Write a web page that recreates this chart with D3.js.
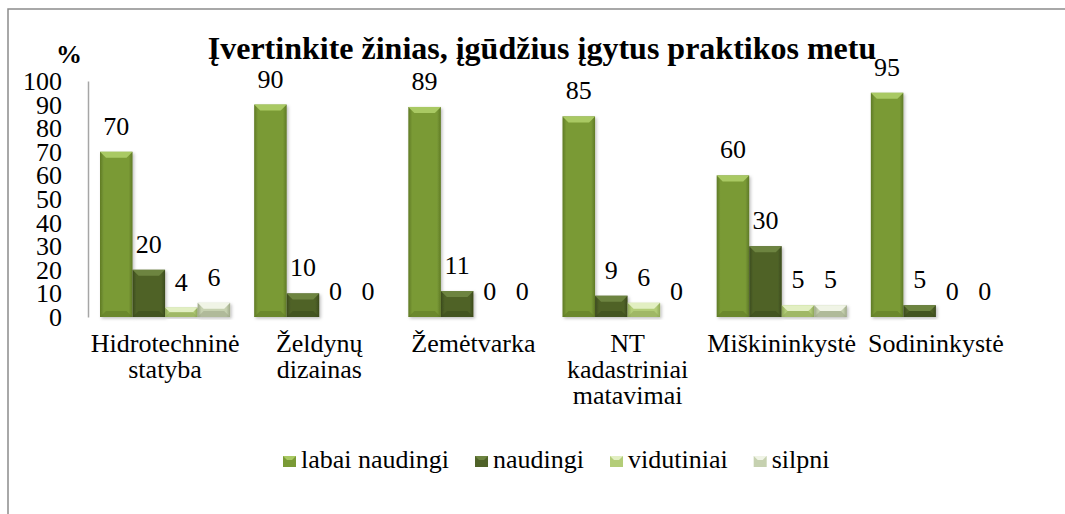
<!DOCTYPE html>
<html lang="lt">
<head>
<meta charset="utf-8">
<script src="https://cdn.jsdelivr.net/npm/d3@7"></script>
<style>
  body { margin:0; padding:0; background:#fff; }
  svg text { font-family: "Liberation Serif", "Times New Roman", serif; fill:#000; }
</style>
</head>
<body>
<svg id="chart" width="1065" height="514"></svg>
<script>
// data
var categories = [["Hidrotechninė","statyba"], ["Želdynų","dizainas"], ["Žemėtvarka"],
                  ["NT","kadastriniai","matavimai"], ["Miškininkystė"], ["Sodininkystė"]];
var seriesNames = ["labai naudingi", "naudingi", "vidutiniai", "silpni"];
var labaiNaudingi = [70, 90, 89, 85, 60, 95];
var naudingi      = [20, 10, 11, 9, 30, 5];
var vidutiniai    = [4, 0, 0, 6, 5, 0];
var silpni        = [6, 0, 0, 0, 5, 0];
var yTicks = [0,10,20,30,40,50,60,70,80,90,100];
var title = "Įvertinkite žinias, įgūdžius įgytus praktikos metu";

// colours: body, top bevel, dark edge
var colors = [
  {body:"#7a9a36", top:"#a9c963", edge:"#5f7a26"},
  {body:"#4f6228", top:"#6d8440", edge:"#3b4a1c"},
  {body:"#b3cd78", top:"#e2efc2", edge:"#8fa858"},
  {body:"#c6d1b0", top:"#f0f4e6", edge:"#9ea888"}
];

var values = [labaiNaudingi, naudingi, vidutiniai, silpni];
var svg = d3.select("#chart");
var defs = svg.append("defs");

colors.forEach(function(c,i){
  var g = defs.append("linearGradient").attr("id","grad"+i)
    .attr("x1","0").attr("x2","1").attr("y1","0").attr("y2","0");
  g.append("stop").attr("offset","0").attr("stop-color",c.edge);
  g.append("stop").attr("offset","0.12").attr("stop-color",c.body);
  g.append("stop").attr("offset","0.88").attr("stop-color",c.body);
  g.append("stop").attr("offset","1").attr("stop-color",c.edge);
});
var sh = defs.append("filter").attr("id","shadow").attr("x","-20%").attr("y","-10%").attr("width","150%").attr("height","130%");
sh.append("feDropShadow").attr("dx",1.5).attr("dy",1.5).attr("stdDeviation",1.5).attr("flood-color","#000").attr("flood-opacity",0.25);

// frame
svg.append("path").attr("d","M8,514 L8,9 L1065,9")
  .attr("fill","none").attr("stroke","#8c8c8c").attr("stroke-width",1.5);

var catKeys = categories.map(function(d){ return d.join(" "); });
var x0 = d3.scaleBand().domain(catKeys).range([88,1013]);
var x1 = d3.scaleBand().domain(seriesNames).range([12, x0.bandwidth()-12]);
var y = d3.scaleLinear().domain([0,100]).range([317,81]);

// y axis
var yAxis = svg.append("g").attr("transform","translate(88,0)")
  .call(d3.axisLeft(y).tickValues(yTicks).tickSize(0).tickSizeOuter(0).tickPadding(26));
yAxis.select(".domain").attr("stroke","#a6a6a6").attr("stroke-width",1.5);
yAxis.selectAll("text").style("font-size","26px").attr("font-family",null).attr("dy","0.33em");

// x axis
var xAxis = svg.append("g").attr("transform","translate(0,317)")
  .call(d3.axisBottom(x0).tickSize(0).tickSizeOuter(0).tickFormat(""));
xAxis.select(".domain").attr("stroke","#a6a6a6").attr("stroke-width",1.5).attr("filter","url(#shadow)");
xAxis.selectAll(".tick").each(function(d,i){
  var t = d3.select(this).select("text").attr("y",35).attr("dy",null)
    .style("font-size","26px").attr("font-family",null);
  categories[i].forEach(function(line,k){
    t.append("tspan").attr("x",0).attr("y",35+26*k).text(line);
  });
});

// bars
function drawBar(g, bx, by, w, h, c, i){
  if (h <= 0) return;
  var b = Math.min(6, h/2);
  g.append("rect").attr("x",bx).attr("y",by).attr("width",w).attr("height",h)
    .attr("fill","url(#grad"+i+")").attr("filter","url(#shadow)");
  g.append("polygon")
    .attr("points",[[bx,by],[bx+w,by],[bx+w-b,by+b],[bx+b,by+b]].map(function(p){return p.join(",");}).join(" "))
    .attr("fill",c.top);
  g.append("polygon")
    .attr("points",[[bx,by+h],[bx+w,by+h],[bx+w-b,by+h-b],[bx+b,by+h-b]].map(function(p){return p.join(",");}).join(" "))
    .attr("fill",c.edge).attr("opacity",0.55);
}

var groups = svg.append("g").selectAll("g").data(catKeys).enter().append("g")
  .attr("transform",function(d){ return "translate("+x0(d)+",0)"; });

groups.each(function(cat, ci){
  var g = d3.select(this);
  seriesNames.forEach(function(s, si){
    var v = values[si][ci];
    var bx = x1(s), w = x1.bandwidth();
    drawBar(g, bx, y(v), w, y(0)-y(v), colors[si], si);
    g.append("text").attr("x",bx+w/2).attr("y",y(v)-17)
      .attr("text-anchor","middle").style("font-size","26px").text(v);
  });
});

// title and unit
svg.append("text").attr("x",542).attr("y",59).attr("text-anchor","middle")
  .style("font-size","32px").style("font-weight","bold").text(title);
svg.append("text").attr("x",56).attr("y",63)
  .style("font-size","26px").style("font-weight","bold").text("%");

// legend
var legend = svg.append("g");
var lx = 283;
seriesNames.forEach(function(s, i){
  var item = legend.append("g");
  var c = colors[i];
  item.append("rect").attr("x",lx).attr("y",456).attr("width",13).attr("height",11).attr("fill",c.body);
  item.append("polygon")
    .attr("points",[[lx,456],[lx+13,456],[lx+9,460],[lx+4,460]].map(function(p){return p.join(",");}).join(" "))
    .attr("fill",c.top);
  var t = item.append("text").attr("x",lx+18).attr("y",468).style("font-size","26px").text(s);
  lx += 18 + t.node().getComputedTextLength() + 26;
});
</script>
</body>
</html>
